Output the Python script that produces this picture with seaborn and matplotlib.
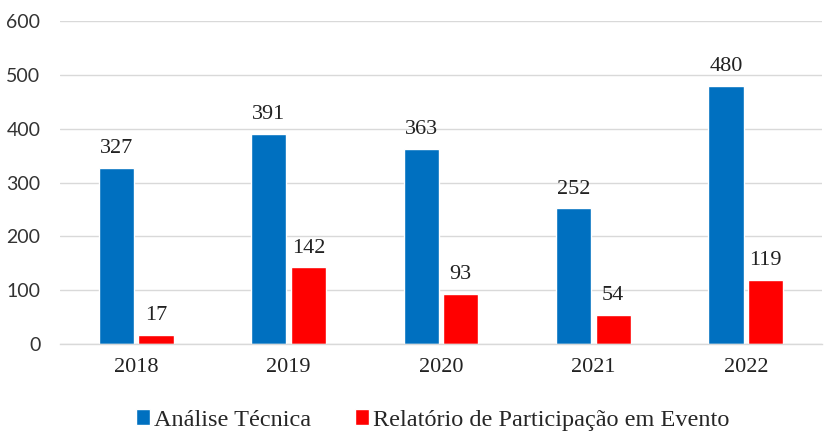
import matplotlib
matplotlib.use("Agg")
import matplotlib.pyplot as plt
import seaborn as sns
import pandas as pd

years = ["2018", "2019", "2020", "2021", "2022"]
analise = [327, 391, 363, 252, 480]
relatorio = [17, 142, 93, 54, 119]
series_names = ["Análise Técnica", "Relatório de Participação em Evento"]
colors = ["#0070C0", "#FF0000"]

df = pd.DataFrame({
    "Ano": years * 2,
    "Valor": analise + relatorio,
    "Serie": [series_names[0]] * len(years) + [series_names[1]] * len(years),
})

sns.set_theme(style="white")
plt.rcParams["font.family"] = ["Liberation Serif", "DejaVu Serif"]

fig = plt.figure(figsize=(8.32, 4.32), dpi=100)
ax = fig.add_axes([0.072, 0.204, 0.916, 0.747])

sns.barplot(data=df, x="Ano", y="Valor", hue="Serie", palette=colors,
            width=0.52, gap=0.11, ax=ax, saturation=1, legend=True)

for c in ax.containers:
    ax.bar_label(c, padding=7, fontsize=16, color="#222222")

ax.set_ylim(0, 600)
ax.set_yticks(range(0, 601, 100))
ax.set_xlim(-0.5, 4.5)
ax.yaxis.grid(True, color="#d9d9d9", linewidth=1)
ax.set_axisbelow(True)
for s in ["top", "right", "left"]:
    ax.spines[s].set_visible(False)
ax.spines["bottom"].set_color("#d9d9d9")
ax.spines["bottom"].set_linewidth(1)
ax.set_xlabel("")
ax.set_ylabel("")
ax.tick_params(axis="x", labelsize=16, length=0, pad=10, colors="#222222")
ax.tick_params(axis="y", length=0, pad=14, colors="#333333")
for lab in ax.get_yticklabels():
    lab.set_fontfamily(["Lato", "DejaVu Sans"])
    lab.set_fontsize(14)

ax.legend(loc="upper center", bbox_to_anchor=(0.489, -0.135), ncol=2, frameon=False,
          fontsize=17.5, handlelength=0.6, handleheight=0.6, handletextpad=0.15,
          columnspacing=1.8, title=None)

fig.savefig("out.png", dpi=100)
